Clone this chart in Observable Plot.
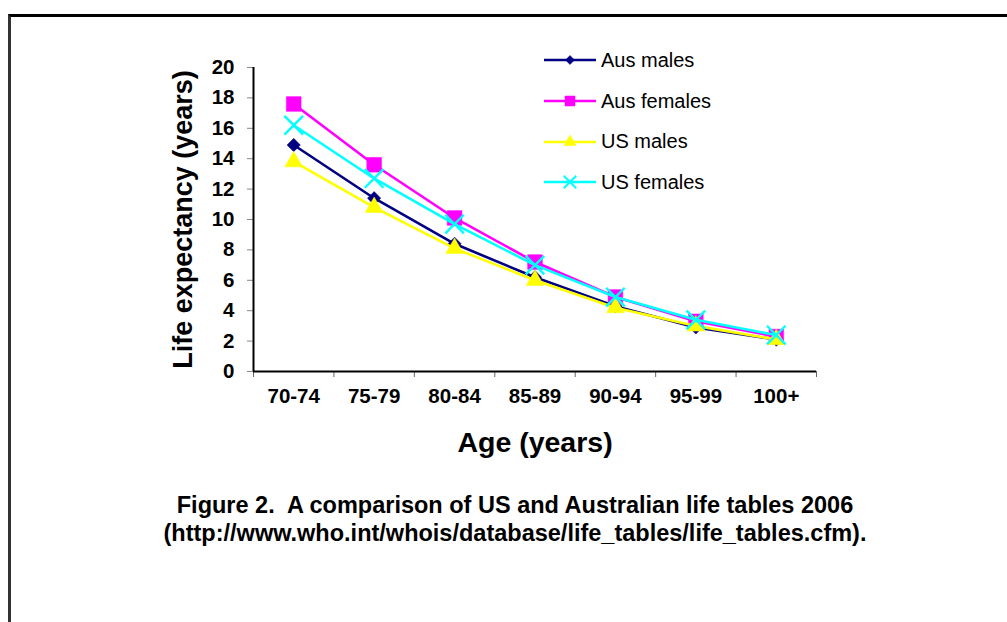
<!DOCTYPE html>
<html>
<head>
<meta charset="utf-8">
<script src="https://cdn.jsdelivr.net/npm/d3@7"></script>
<script src="https://cdn.jsdelivr.net/npm/@observablehq/plot@0.6"></script>
<style>
  html, body { margin: 0; padding: 0; background: #fff; }
  body { width: 1007px; height: 622px; position: relative; overflow: hidden; font-family: "Liberation Sans", Arial, sans-serif; }
  #frame { position: absolute; left: 8px; top: 14px; width: 1010px; height: 620px; border-top: 3px solid #000; border-left: 3px solid #333; box-sizing: border-box; }
  #chart { position: absolute; left: 0; top: 0; }
  #legend { position: absolute; left: 540px; top: 40px; font-size: 20px; color: #000; }
  #legend .row { display: flex; align-items: center; height: 40.7px; }
  #legend svg { display: block; }
  #legend span { margin-left: 3px; }
  #caption { position: absolute; left: 8px; width: 1014px; top: 491px; text-align: center; font-weight: bold; font-size: 23.5px; line-height: 28px; color: #000; }
</style>
</head>
<body>
<div id="frame"></div>
<div id="chart"></div>
<div id="legend"></div>
<div id="caption">Figure 2.&nbsp; A comparison of US and Australian life tables 2006<br>(http://www.who.int/whois/database/life_tables/life_tables.cfm).</div>
<script>
const categories = ["70-74", "75-79", "80-84", "85-89", "90-94", "95-99", "100+"];
const seriesNames = ["Aus males", "Aus females", "US males", "US females"];
const ausMales   = [14.9, 11.4, 8.4, 6.2, 4.3, 2.9, 2.1];
const ausFemales = [17.6, 13.6, 10.1, 7.2, 4.9, 3.3, 2.3];
const usMales    = [13.8, 10.8, 8.1, 6.0, 4.2, 3.0, 2.1];
const usFemales  = [16.2, 12.7, 9.7, 7.0, 4.9, 3.4, 2.4];
const yTicks = [0, 2, 4, 6, 8, 10, 12, 14, 16, 18, 20];

const styles = {
  "Aus males":   {color: "#000080", symbol: "diamond2", r: 6.0, filled: true},
  "Aus females": {color: "#FF00FF", symbol: "square", r: 8.3, filled: true},
  "US males":    {color: "#FFFF00", symbol: "triangle", r: 6.6, filled: true},
  "US females":  {color: "#00FFFF", symbol: "times", r: 8.5, filled: false}
};

const valuesBySeries = [ausMales, ausFemales, usMales, usFemales];
const data = [];
seriesNames.forEach((s, k) => {
  valuesBySeries[k].forEach((v, i) => data.push({series: s, idx: i + 0.5, cat: categories[i], value: v}));
});

const font = "Liberation Sans, Arial, sans-serif";
const marks = [
  Plot.axisY({ticks: yTicks, tickSize: 6, tickPadding: 13, fontSize: 20.5, fontWeight: "bold", stroke: "#888", label: null, fontFamily: font}),
  Plot.axisX({ticks: categories.map((_, i) => i + 0.5), tickFormat: t => categories[Math.floor(t)], tickSize: 0, tickPadding: 17, fontSize: 20.5, fontWeight: "bold", label: null, fontFamily: font}),
  Plot.axisX({ticks: d3.range(categories.length + 1), tickFormat: () => "", tickSize: 6, stroke: "#666", label: null}),
  Plot.ruleY([0], {stroke: "#000", strokeWidth: 2}),
  Plot.ruleX([0], {stroke: "#000", strokeWidth: 2}),
  Plot.text(["Life expectancy (years)"], {frameAnchor: "left", textAnchor: "middle", rotate: -90, dx: -70, fontSize: 27, fontWeight: "bold", fontFamily: font, fill: "#000"}),
  Plot.text(["Age (years)"], {frameAnchor: "bottom", dy: 80, fontSize: 28.5, fontWeight: "bold", fontFamily: font, fill: "#000"})
];
for (const s of seriesNames) {
  const st = styles[s];
  const d = data.filter(r => r.series === s);
  marks.push(Plot.line(d, {x: "idx", y: "value", stroke: st.color, strokeWidth: 2.6}));
  marks.push(Plot.dot(d, {x: "idx", y: "value", symbol: () => st.symbol, r: st.r,
    fill: st.filled ? st.color : "none", stroke: st.color, strokeWidth: st.filled ? 0.5 : 2.4}));
}

const chart = Plot.plot({
  width: 1007,
  height: 480,
  marginLeft: 253,
  marginRight: 191,
  marginTop: 67,
  marginBottom: 109,
  style: {fontFamily: font, background: "transparent", color: "#000"},
  x: {domain: [0, categories.length], axis: null},
  y: {domain: [0, 20], axis: null},
  symbol: {type: "identity"},
  marks
});
document.getElementById("chart").appendChild(chart);

// legend
const legend = d3.select("#legend");
const symMap = {diamond2: d3.symbolDiamond2, square: d3.symbolSquare, triangle: d3.symbolTriangle, times: d3.symbolTimes};
for (const s of seriesNames) {
  const st = styles[s];
  const row = legend.append("div").attr("class", "row");
  const svg = row.append("svg").attr("width", 58).attr("height", 20);
  svg.append("line").attr("x1", 4).attr("x2", 56).attr("y1", 10).attr("y2", 10).attr("stroke", st.color).attr("stroke-width", 2.6);
  const rr = st.r * 0.68;
  svg.append("path").attr("transform", "translate(30,10)")
    .attr("d", d3.symbol(symMap[st.symbol], Math.PI * rr * rr)())
    .attr("fill", st.filled ? st.color : "none").attr("stroke", st.color).attr("stroke-width", st.filled ? 0.5 : 2);
  row.append("span").text(s);
}
</script>
</body>
</html>
